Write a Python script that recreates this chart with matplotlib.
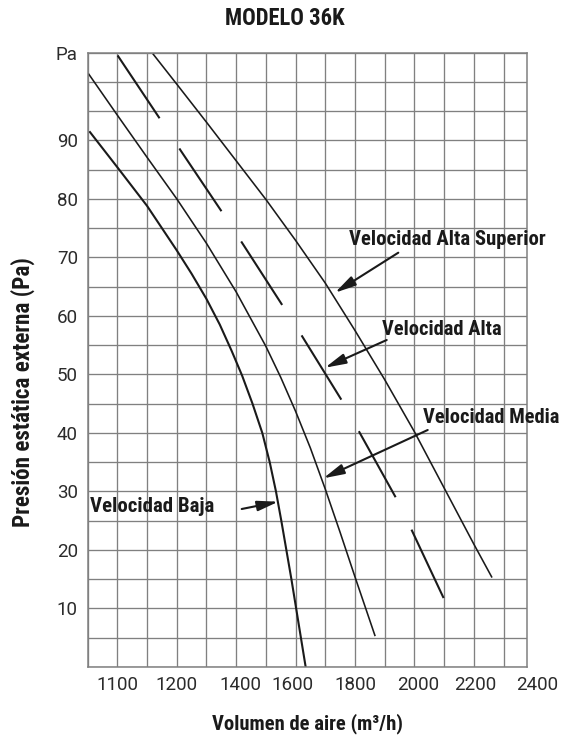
import matplotlib
matplotlib.use('Agg')
import matplotlib.pyplot as plt
from matplotlib import font_manager as fm
from matplotlib.transforms import blended_transform_factory
import numpy as np

# ---------------- data (x in chart grid divisions, y in Pa) ----------------
baja_x = [0.08, 1.0, 2.0, 3.0, 3.5, 4.0, 4.45, 4.85, 5.2, 5.55, 5.88, 6.13, 6.34, 6.52, 6.69, 6.86, 7.02, 7.18, 7.34]
baja_y = [91.4, 85.4, 78.8, 71.2, 67.2, 62.9, 58.5, 54.0, 49.8, 45.0, 40.0, 35.0, 30.0, 25.0, 20.0, 15.0, 10.0, 5.0, 0.0]

media_x = [0.04, 1.0, 2.0, 3.0, 4.0, 5.0, 6.0, 6.5, 7.0, 7.5, 8.0, 8.5, 9.0, 9.67]
media_y = [101.3, 94.3, 87.1, 80.0, 72.4, 64.1, 54.8, 49.5, 43.7, 37.4, 30.4, 23.0, 15.4, 5.4]

alta_x = [1.01, 2.47, 3.14, 4.53, 5.21, 6.57, 7.21, 8.55, 9.14, 10.38, 10.89, 12.0]
alta_y = [104.5, 93.4, 88.2, 77.7, 72.4, 61.7, 56.6, 45.6, 40.2, 28.9, 23.6, 11.6]

sup_x = [2.21, 3.0, 4.0, 5.0, 6.0, 7.0, 8.0, 9.0, 10.0, 11.0, 12.0, 13.0, 13.6]
sup_y = [104.7, 99.6, 93.1, 86.5, 79.9, 72.9, 65.6, 57.5, 49.1, 40.2, 30.6, 21.0, 15.4]

x_tick_labels = ['1100', '1200', '1400', '1600', '1800', '2000', '2200', '2400']
x_tick_pos = [1.0, 2.99, 5.15, 6.91, 9.0, 11.12, 13.04, 15.13]
y_tick_values = [10, 20, 30, 40, 50, 60, 70, 80, 90]
y_unit_label = 'Pa'

# ---------------- fonts ----------------
def find_bold_condensed():
    best = None
    for f in fm.fontManager.ttflist:
        narrow = ('Narrow' in f.name or 'Condensed' in f.name or
                  str(f.stretch) in ('condensed', 'semi-condensed', 'extra-condensed'))
        w = f.weight
        isbold = (w == 'bold' or w == 700 or w == '700')
        if narrow and isbold and 'Italic' not in f.fname and 'Oblique' not in f.fname:
            best = f
            if 'Liberation' in f.name or 'Roboto' in f.name:
                break
    return best

bc = find_bold_condensed()
if bc is not None:
    BOLDPROP = dict(fontproperties=fm.FontProperties(fname=bc.fname))
else:
    BOLDPROP = dict(family='Liberation Sans', fontweight='bold')
names = {f.name for f in fm.fontManager.ttflist}
LIGHT = 'Roboto' if 'Roboto' in names else 'DejaVu Sans'
plt.rcParams['lines.scale_dashes'] = False

W, H = 563, 740
fig = plt.figure(figsize=(W / 100, H / 100), dpi=100)
L, R, T, B = 87.6, 527.0, 52.5, 667.0
ax = fig.add_axes([L / W, 1 - B / H, (R - L) / W, (B - T) / H])
ax.set_xlim(0, 14.79)
ax.set_ylim(0, 105)

gcol = '#808080'
ax.set_xticks(np.arange(0, 15))
ax.set_yticks(np.arange(0, 106, 5))
ax.grid(True, color=gcol, linewidth=0.95)
ax.set_axisbelow(True)
for s in ax.spines.values():
    s.set_color(gcol)
    s.set_linewidth(1.1)
ax.tick_params(length=0)
ax.set_xticklabels([])
ylabels = []
for v in np.arange(0, 106, 5):
    if v in y_tick_values:
        ylabels.append(str(v))
    elif v == 105:
        ylabels.append(y_unit_label)
    else:
        ylabels.append('')
tick_color = '#2b2b2b'
tick_weight = 'normal'
ax.set_yticklabels(ylabels, fontsize=13.5, family=LIGHT, fontweight=tick_weight, color=tick_color)
ax.tick_params(axis='y', pad=7)

trans = blended_transform_factory(ax.transData, ax.transAxes)
for p, lab in zip(x_tick_pos, x_tick_labels):
    ax.text(p, -0.0295, lab, transform=trans, ha='center', va='center', fontsize=13.5,
            family=LIGHT, fontweight=tick_weight, color=tick_color, clip_on=False)

lc = '#1a1a1a'
ax.plot(baja_x, baja_y, color=lc, lw=1.5)
ax.plot(media_x, media_y, color=lc, lw=1.15)
ax.plot(alta_x, alta_y, color=lc, lw=1.5, linestyle=(0, (54.4, 26.0)), dash_capstyle='butt')
ax.plot(sup_x, sup_y, color=lc, lw=1.15)

# ---------------- annotations ----------------
def px2d(px, py):
    return ((px - L) / ((R - L) / 14.79), (B - py) / ((B - T) / 105))

renderer = fig.canvas.get_renderer()

def fit(t, target, vertical=False):
    bb = t.get_window_extent(renderer=renderer)
    cur = bb.height if vertical else bb.width
    t.set_fontsize(t.get_fontsize() * target / cur)

arr = dict(arrowstyle='-|>,head_length=0.9,head_width=0.22', color='#1a1a1a', lw=1.5,
           shrinkA=0, shrinkB=0, mutation_scale=14)

labels = [
    ('Velocidad Alta Superior', (349, 239.3), 198, (398.3, 252.7), (335, 292.7)),
    ('Velocidad Alta', (381.7, 329.3), 120, (386.7, 340), (325, 367.7)),
    ('Velocidad Media', (422.7, 418), 137, (427.7, 430), (323.3, 478.3)),
    ('Velocidad Baja', (90, 506.7), 125, (241.7, 509), (278.3, 501.7)),
]
for txt, tpos, wid, tail, tip in labels:
    t = ax.text(*px2d(*tpos), txt, clip_on=False, fontsize=14, color='#1a1a1a',
                va='center', ha='left', **BOLDPROP)
    fit(t, wid)
    ax.annotate('', xy=px2d(*tip), xytext=px2d(*tail), arrowprops=arr, annotation_clip=False)

t = fig.text(284.5 / W, 1 - 18.5 / H, 'MODELO 36K', ha='center', va='center', fontsize=16,
             color='#1a1a1a', **BOLDPROP)
fit(t, 120)
t = fig.text(308 / W, 1 - 724 / H, 'Volumen de aire (m³/h)', ha='center', va='center', fontsize=14,
             color='#1a1a1a', **BOLDPROP)
fit(t, 193)
t = fig.text(23 / W, 1 - 392 / H, 'Presión estática externa (Pa)', ha='center', va='center', fontsize=14,
             color='#1a1a1a', rotation=90, **BOLDPROP)
fit(t, 271, vertical=True)

fig.savefig('out.png', dpi=100)
